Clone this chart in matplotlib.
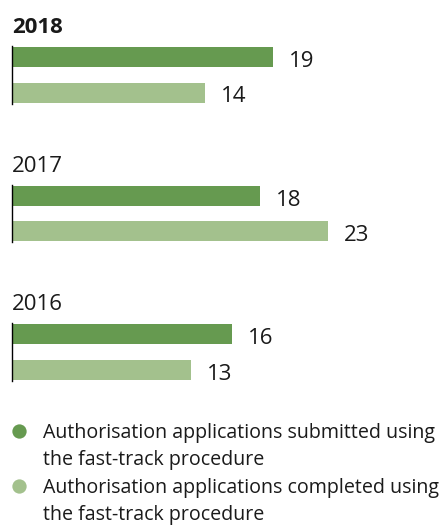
import matplotlib
matplotlib.use("Agg")
import matplotlib.pyplot as plt

plt.rcParams['font.family'] = ['Open Sans', 'DejaVu Sans']

years = ["2018", "2017", "2016"]
submitted = [19, 18, 16]
completed = [14, 23, 13]
legend_labels = [["Authorisation applications submitted using", "the fast-track procedure"],
                 ["Authorisation applications completed using", "the fast-track procedure"]]
c_dark = "#669A50"
c_light = "#A3C18D"
txt = "#1a1a1a"

W, H = 443, 528
fig = plt.figure(figsize=(W / 100, H / 100), dpi=100)
ax = fig.add_axes([0, 0, 1, 1])
ppu = 13.75  # pixels per unit
x0 = 12
ax.set_xlim(-x0 / ppu, (W - x0) / ppu)
ax.set_ylim(H, 0)
ax.axis('off')

group_gap = 138.5
bh = 20
for i, yr in enumerate(years):
    top = 24 + i * group_gap
    yd = top + 33
    yl = top + 68.5
    ax.barh([yd], [submitted[i]], height=bh, color=c_dark)
    ax.barh([yl], [completed[i]], height=bh, color=c_light)
    ax.plot([0, 0], [yd - bh / 2 - 1, yl + bh / 2 + 1], color="black", lw=1.0)
    ax.text(0, top + 9, yr, fontsize=16,
            fontweight='bold' if i == 0 else 'normal',
            va='baseline', ha='left', color=txt)
    ax.text(submitted[i] + 16 / ppu, yd + 10, str(submitted[i]), fontsize=16,
            va='baseline', ha='left', color=txt)
    ax.text(completed[i] + 16 / ppu, yl + 10, str(completed[i]), fontsize=16,
            va='baseline', ha='left', color=txt)

for j, (lines, col) in enumerate([(legend_labels[0], c_dark), (legend_labels[1], c_light)]):
    base = 438 + j * 55
    ax.plot([(19 - x0) / ppu], [base - 7], 'o', ms=10.3, color=col, mec='none')
    for k, line in enumerate(lines):
        ax.text((43 - x0) / ppu, base + k * 27, line, fontsize=14.1,
                va='baseline', ha='left', color=txt)

fig.savefig("out.png", dpi=100)
